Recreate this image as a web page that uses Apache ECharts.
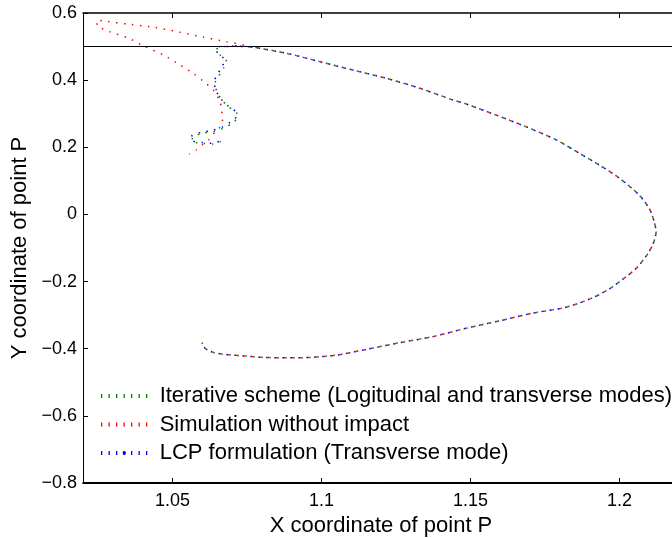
<!DOCTYPE html>
<html>
<head>
<meta charset="utf-8">
<script src="https://cdn.jsdelivr.net/npm/echarts@6/dist/echarts.min.js"></script>
<style>
  html, body { margin: 0; padding: 0; background: #fff; }
  #chart { width: 672px; height: 538px; }
</style>
</head>
<body>
<div id="chart"></div>
<script>
// path of P up to the wall, the three runs agree here
const arcX = [1.0599, 1.0610, 1.0637, 1.0666, 1.0749, 1.0805, 1.0883, 1.0961, 1.1051, 1.1151,
  1.1263, 1.1374, 1.1486, 1.1598, 1.1709, 1.1809, 1.1865, 1.1916, 1.1966, 1.2013,
  1.2057, 1.2090, 1.2113, 1.2123, 1.2117, 1.2100, 1.2066, 1.2000, 1.1933, 1.1866,
  1.1788, 1.1687, 1.1586, 1.1486, 1.1441, 1.1330, 1.1218, 1.1106, 1.0995, 1.0883,
  1.0771, 1.0710];
const arcY = [-0.382, -0.399, -0.411, -0.416, -0.422, -0.426, -0.427, -0.426, -0.419, -0.402,
  -0.382, -0.364, -0.339, -0.317, -0.294, -0.279, -0.264, -0.246, -0.222, -0.192,
  -0.160, -0.124, -0.088, -0.052, -0.022, 0.018, 0.058, 0.108, 0.147, 0.182,
  0.222, 0.261, 0.296, 0.329, 0.341, 0.376, 0.4055, 0.430, 0.455, 0.480,
  0.498, 0.502];

// after the wall: iterative scheme
const iterX = [1.0682, 1.0660, 1.0648, 1.0660, 1.0682, 1.0671, 1.0654, 1.0643, 1.0649, 1.0666,
  1.0688, 1.0716, 1.0716, 1.0699, 1.0671, 1.0637, 1.0604, 1.0570, 1.0565, 1.0604,
  1.0637, 1.0660, 1.0654];
const iterY = [0.500, 0.500, 0.490, 0.475, 0.455, 0.435, 0.410, 0.391, 0.366, 0.341,
  0.321, 0.301, 0.286, 0.271, 0.257, 0.246, 0.242, 0.232, 0.217, 0.212,
  0.210, 0.217, 0.227];

// after the wall: LCP formulation
const lcpX = [1.0682, 1.0660, 1.0645, 1.0655, 1.0676, 1.0666, 1.0650, 1.0640, 1.0646, 1.0662,
  1.0685, 1.0712, 1.0713, 1.0695, 1.0667, 1.0633, 1.0600, 1.0567, 1.0563, 1.0600,
  1.0634, 1.0657, 1.0652];
const lcpY = [0.500, 0.500, 0.492, 0.478, 0.460, 0.440, 0.415, 0.395, 0.370, 0.345,
  0.325, 0.305, 0.290, 0.275, 0.260, 0.250, 0.245, 0.236, 0.221, 0.214,
  0.212, 0.219, 0.229];

// no impact: goes through the wall and comes back
const freeX = [1.0738, 1.0682, 1.0604, 1.0526, 1.0442, 1.0358, 1.0278, 1.0247, 1.0247, 1.0291,
  1.0353, 1.0403, 1.0470, 1.0526, 1.0570, 1.0610, 1.0637, 1.0660, 1.0665, 1.0669,
  1.0660, 1.0641, 1.0624, 1.0604, 1.0580, 1.0557];
const freeY = [0.505, 0.5145, 0.528, 0.5425, 0.557, 0.566, 0.575, 0.579, 0.564, 0.544,
  0.525, 0.502, 0.475, 0.445, 0.420, 0.392, 0.371, 0.336, 0.309, 0.286,
  0.261, 0.243, 0.224, 0.210, 0.192, 0.180];

const wallY = 0.5;
const xMin = 1.02, xMax = 1.22;
const yMin = -0.8, yMax = 0.6;
const xTicks = [1.05, 1.1, 1.15, 1.2];
const names = ['Iterative scheme (Logitudinal and transverse modes)',
  'Simulation without impact', 'LCP formulation (Transverse mode)'];
const colors = ['#008000', '#ff0000', '#0000ff'];

const font = '"Liberation Sans", Arial, Helvetica, sans-serif';

function pts(xs, ys) {
  return xs.map((x, i) => [x, ys[i]]);
}

// dotted legend sample, blue one gets a dot in the middle
function dashIcon(dot) {
  let p = '';
  for (let i = 0; i < 7; i++) {
    p += 'M' + (i * 7.5) + ',0h1.3v4h-1.3z';
  }
  if (dot) p += 'M21.8,0.5h3v3h-3z';
  return 'path://' + p;
}

function lineSeries(k, data, extra) {
  return Object.assign({
    name: names[k],
    type: 'line',
    data: data,
    symbol: 'none',
    showSymbol: false,
    silent: true,
    smooth: 0.25,
    z: 3 + k,
    lineStyle: { color: colors[k], width: 1.5, type: [1.5, 6.5], dashOffset: k * 1.5 },
    itemStyle: { color: colors[k] }
  }, extra || {});
}

const chart = echarts.init(document.getElementById('chart'));
chart.setOption({
  animation: false,
  backgroundColor: '#fff',
  grid: { left: 83, right: -7, top: 13, bottom: 55, containLabel: false, outerBoundsMode: 'none' },
  legend: {
    orient: 'vertical',
    left: 96,
    top: 380,
    itemWidth: 51,
    itemHeight: 4,
    itemGap: 6.5,
    selectedMode: false,
    data: names.map((n, i) => ({ name: n, icon: dashIcon(i === 2) })),
    textStyle: { fontFamily: font, fontSize: 22, color: '#000', padding: [0, 0, 0, 5] }
  },
  xAxis: [{
    type: 'value',
    position: 'bottom',
    min: xMin,
    max: xMax,
    name: 'X coordinate of point P',
    nameLocation: 'middle',
    nameGap: 25,
    nameTextStyle: { fontFamily: font, fontSize: 22, color: '#000' },
    axisLine: { show: true, onZero: false, lineStyle: { color: '#000', width: 1 } },
    axisTick: { show: true, inside: true, length: 5, customValues: xTicks, lineStyle: { color: '#000' } },
    axisLabel: { customValues: xTicks, fontFamily: font, fontSize: 18, color: '#000', margin: 9 },
    splitLine: { show: false }
  }, {
    type: 'value',
    position: 'top',
    min: xMin,
    max: xMax,
    axisLine: { show: true, onZero: false, lineStyle: { color: '#000', width: 1.5 } },
    axisTick: { show: true, inside: true, length: 5, customValues: xTicks, lineStyle: { color: '#000' } },
    axisLabel: { show: false },
    splitLine: { show: false }
  }],
  yAxis: {
    type: 'value',
    min: yMin,
    max: yMax,
    interval: 0.2,
    name: 'Y coordinate of point P',
    nameLocation: 'middle',
    nameGap: 52,
    nameTextStyle: { fontFamily: font, fontSize: 22, color: '#000' },
    axisLine: { show: true, onZero: false, lineStyle: { color: '#000', width: 1 } },
    axisTick: { show: true, inside: true, length: 5, lineStyle: { color: '#000' } },
    axisLabel: {
      fontFamily: font, fontSize: 18, color: '#000', margin: 6,
      formatter: v => {
        const r = Math.round(v * 10) / 10;
        return r < 0 ? '\u2212' + (-r) : String(r);
      }
    },
    splitLine: { show: false }
  },
  series: [
    lineSeries(0, pts(arcX.concat(iterX), arcY.concat(iterY)), {
      markLine: {
        silent: true,
        symbol: ['none', 'none'],
        label: { show: false },
        lineStyle: { color: '#000', type: 'solid', width: 1 },
        data: [{ yAxis: wallY }]
      }
    }),
    lineSeries(1, pts(arcX.concat(freeX), arcY.concat(freeY))),
    lineSeries(2, pts(arcX.concat(lcpX), arcY.concat(lcpY)))
  ]
});

// bottom edge of the frame as a thin filled bar, placed through the axes
const p0 = chart.convertToPixel({ gridIndex: 0 }, [xMin, yMin]);
const p1 = chart.convertToPixel({ gridIndex: 0 }, [xMax, yMin]);
chart.setOption({
  graphic: [{
    type: 'rect',
    silent: true,
    z: 100,
    shape: { x: p0[0] - 0.5, y: Math.round(p0[1]) - 1, width: p1[0] - p0[0] + 1, height: 1.5 },
    style: { fill: '#000' }
  }]
});
</script>
</body>
</html>
